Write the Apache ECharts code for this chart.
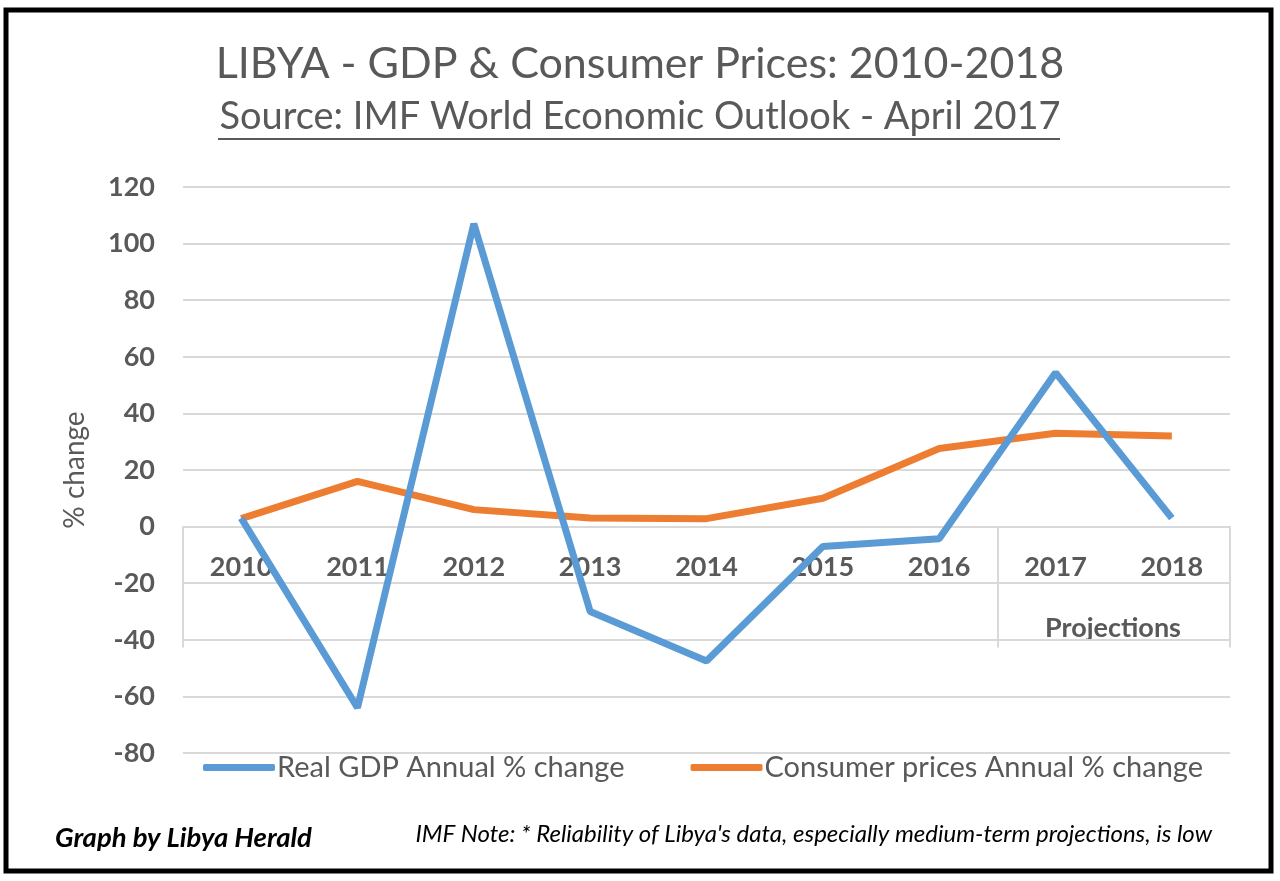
<!DOCTYPE html>
<html>
<head>
<meta charset="utf-8">
<script src="https://cdn.jsdelivr.net/npm/echarts@6/dist/echarts.min.js"></script>
<style>
  html, body { margin: 0; padding: 0; background: #fff; }
  #main { width: 1280px; height: 881px; }
</style>
</head>
<body>
<div id="main"></div>
<script>
var years = ['2010', '2011', '2012', '2013', '2014', '2015', '2016', '2017', '2018'];
var gdpChange = [3, -64, 107, -30, -47.5, -7, -4.3, 54.4, 3];
var cpiChange = [2.8, 16, 6, 3, 2.8, 10, 27.6, 33, 32];
var yTicks = { min: -80, max: 120, step: 20 };
var projectionStart = 7; // index of 2017

var grey = '#595959';
var gridGrey = '#d9d9d9';
var font = 'Lato';

var myChart = echarts.init(document.getElementById('main'));

myChart.setOption({
  backgroundColor: '#fff',
  animation: false,
  textStyle: { fontFamily: font },
  title: {
    text: 'LIBYA - GDP & Consumer Prices: 2010-2018',
    subtext: 'Source: IMF World Economic Outlook - April 2017',
    left: 'center',
    top: 38,
    itemGap: 12,
    textStyle: { fontFamily: font, fontSize: 43, fontWeight: 'normal', color: grey },
    subtextStyle: { fontFamily: font, fontSize: 38, color: grey }
  },
  legend: {
    left: 198,
    top: 748,
    itemWidth: 72,
    itemHeight: 7,
    itemGap: 66,
    icon: 'roundRect',
    textStyle: { fontFamily: font, fontSize: 29, color: grey, padding: [0, 0, 0, -3] },
    data: ['Real GDP Annual % change', 'Consumer prices Annual % change']
  },
  grid: { left: 183, right: 50, top: 187, bottom: 128, containLabel: false },
  xAxis: {
    type: 'category',
    data: years,
    boundaryGap: true,
    axisLine: { onZero: false, lineStyle: { color: gridGrey, width: 2 } },
    axisTick: {
      show: true,
      length: 121,
      interval: function (index) { return index === 0 || index === projectionStart; },
      lineStyle: { color: gridGrey, width: 2 }
    },
    axisLabel: {
      interval: 0,
      margin: 27,
      fontFamily: font,
      fontSize: 27,
      fontWeight: 'bold',
      color: grey
    }
  },
  yAxis: {
    type: 'value',
    min: yTicks.min,
    max: yTicks.max,
    interval: yTicks.step,
    name: '% change',
    nameLocation: 'middle',
    nameGap: 94,
    nameTextStyle: { fontFamily: font, fontSize: 28, color: grey },
    axisLine: { show: false },
    axisTick: { show: false },
    axisLabel: { margin: 28, fontFamily: font, fontSize: 27, fontWeight: 'bold', color: grey },
    splitLine: { lineStyle: { color: gridGrey, width: 2 } }
  },
  series: [
    {
      name: 'Real GDP Annual % change',
      type: 'line',
      data: gdpChange,
      symbol: 'none',
      color: '#5b9bd5',
      lineStyle: { width: 7, color: '#5b9bd5' },
      z: 3
    },
    {
      name: 'Consumer prices Annual % change',
      type: 'line',
      data: cpiChange,
      symbol: 'none',
      color: '#ed7d31',
      lineStyle: { width: 7, color: '#ed7d31' },
      z: 2
    }
  ],
  graphic: [
    {
      type: 'rect',
      shape: { x: 6, y: 10, width: 1265, height: 861 },
      style: { fill: 'none', stroke: '#000', lineWidth: 5 },
      z: 10
    },
    {
      type: 'line',
      shape: { x1: 218, y1: 139, x2: 1060, y2: 139 },
      style: { stroke: grey, lineWidth: 2 }
    },
    {
      type: 'text',
      x: 1113,
      y: 628,
      style: {
        text: 'Projections',
        fontFamily: font, fontSize: 27, fontWeight: 'bold',
        fill: grey, align: 'center', verticalAlign: 'middle'
      }
    },
    {
      type: 'text',
      x: 55,
      y: 838,
      style: {
        text: 'Graph by Libya Herald',
        fontFamily: font, fontSize: 27.5, fontWeight: 'bold', fontStyle: 'italic',
        fill: '#000', align: 'left', verticalAlign: 'middle'
      }
    },
    {
      type: 'text',
      x: 1212,
      y: 834,
      style: {
        text: "IMF Note: * Reliability of Libya's data, especially medium-term projections, is low",
        fontFamily: font, fontSize: 24, fontStyle: 'italic',
        fill: '#000', align: 'right', verticalAlign: 'middle'
      }
    }
  ]
});

// move the category axis up to the zero line, labels included
var zeroY = myChart.convertToPixel({ yAxisIndex: 0 }, 0);
var bottomY = myChart.convertToPixel({ yAxisIndex: 0 }, yTicks.min);
myChart.setOption({ xAxis: { offset: zeroY - bottomY } });
</script>
</body>
</html>
